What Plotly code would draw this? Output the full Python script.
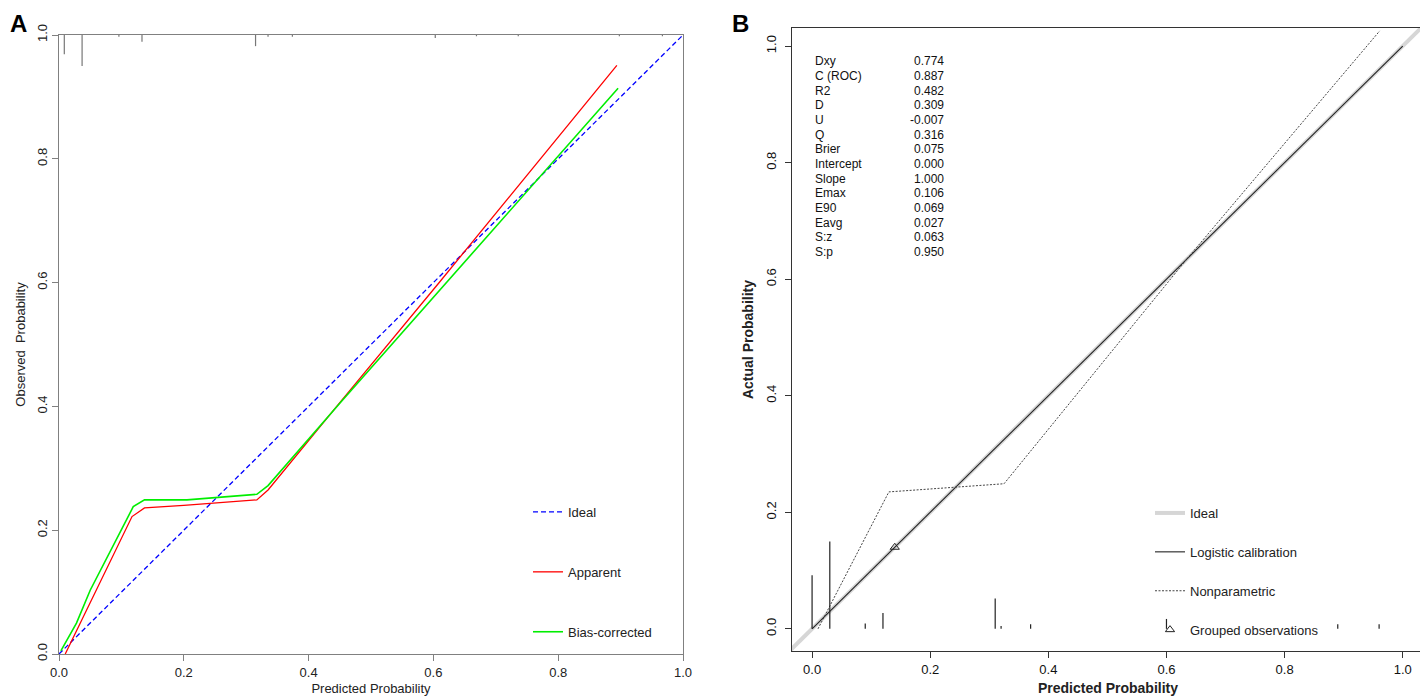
import plotly.graph_objects as go

# page body keeps an 8px margin at top/left; the figure runs to the window's
# right and bottom edges. Every layout position below is in window pixels.
OFF = 8
W, H = 1428 - OFF, 696 - OFF


def fx(p):
    return (p - OFF) / W


def fy(p):
    return 1 - (p - OFF) / H


# ---- panel A data (bootstrap calibration curve) ----
ideal_x = [0, 1]
ideal_y = [0, 1]

apparent_x = [0.010, 0.060, 0.117, 0.137, 0.200, 0.317, 0.335, 0.450, 0.610, 0.894]
apparent_y = [0.000, 0.104, 0.222, 0.236, 0.240, 0.249, 0.265, 0.406, 0.601, 0.951]

biascorr_x = [0.003, 0.028, 0.050, 0.082, 0.119, 0.137, 0.205, 0.317, 0.335, 0.450, 0.730, 0.896]
biascorr_y = [0.005, 0.050, 0.103, 0.165, 0.238, 0.249, 0.249, 0.258, 0.272, 0.405, 0.725, 0.914]

# distribution of predictions (spikes hanging from the top)
rugA_x = [0.0085, 0.037, 0.096, 0.133, 0.315, 0.335, 0.374, 0.603, 0.669, 0.736, 0.898, 0.967]
rugA_h = [0.031, 0.050, 0.003, 0.011, 0.018, 0.003, 0.003, 0.005, 0.002, 0.002, 0.002, 0.002]

# ---- panel B data (val.prob) ----
logistic_x = [0, 1]
logistic_y = [0, 1]

nonpar_x = [0.010, 0.130, 0.325, 0.634, 0.961]
nonpar_y = [0.000, 0.235, 0.249, 0.634, 1.026]

grouped_x = [0.14]
grouped_y = [0.14]

rugB_x = [0.00, 0.03, 0.09, 0.12, 0.31, 0.32, 0.37, 0.60, 0.89, 0.96]
rugB_h = [0.092, 0.150, 0.009, 0.027, 0.052, 0.005, 0.008, 0.017, 0.008, 0.008]

stat_names = ["Dxy", "C (ROC)", "R2", "D", "U", "Q", "Brier", "Intercept",
              "Slope", "Emax", "E90", "Eavg", "S:z", "S:p"]
stat_values = ["0.774", "0.887", "0.482", "0.309", "-0.007", "0.316", "0.075",
               "0.000", "1.000", "0.106", "0.069", "0.027", "0.063", "0.950"]

FONT = "Liberation Sans, Arial, sans-serif"


def spikes(xs, hs, base, sign):
    # vertical segments separated by None
    sx, sy = [], []
    for x, h in zip(xs, hs):
        sx += [x, x, None]
        sy += [base, base + sign * h, None]
    return sx, sy


fig = go.Figure()

# panel A
fig.add_trace(go.Scatter(x=ideal_x, y=ideal_y, mode="lines", name="Ideal",
                         line=dict(color="#0000FF", width=1.3, dash="5px,3px"),
                         legend="legend", legendgroup="a1"))
fig.add_trace(go.Scatter(x=apparent_x, y=apparent_y, mode="lines", name="Apparent",
                         line=dict(color="#FF0000", width=1.3),
                         legend="legend", legendgroup="a2"))
fig.add_trace(go.Scatter(x=biascorr_x, y=biascorr_y, mode="lines", name="Bias-corrected",
                         line=dict(color="#00EE00", width=1.6),
                         legend="legend", legendgroup="a3"))
sx, sy = spikes(rugA_x, rugA_h, 1.0, -1)
fig.add_trace(go.Scatter(x=sx, y=sy, mode="lines", showlegend=False,
                         line=dict(color="#777777", width=1.2)))

# panel B
fig.add_trace(go.Scatter(x=[-0.05, 1.05], y=[-0.05, 1.05], mode="lines", name="Ideal",
                         line=dict(color="#D6D6D6", width=4),
                         xaxis="x2", yaxis="y2", legend="legend2", legendgroup="b1"))
fig.add_trace(go.Scatter(x=logistic_x, y=logistic_y, mode="lines", name="Logistic calibration",
                         line=dict(color="#222222", width=1.1),
                         xaxis="x2", yaxis="y2", legend="legend2", legendgroup="b2"))
fig.add_trace(go.Scatter(x=nonpar_x, y=nonpar_y, mode="lines", name="Nonparametric",
                         line=dict(color="#444444", width=1, dash="2px,1.5px"),
                         xaxis="x2", yaxis="y2", legend="legend2", legendgroup="b3"))
fig.add_trace(go.Scatter(x=grouped_x, y=grouped_y, mode="markers", name="Grouped observations",
                         marker=dict(symbol="triangle-up-open", size=8, color="#222222",
                                     line=dict(width=1)),
                         xaxis="x2", yaxis="y2", legend="legend2", legendgroup="b4"))
sx, sy = spikes(rugB_x, rugB_h, 0.0, 1)
fig.add_trace(go.Scatter(x=sx, y=sy, mode="lines", showlegend=False,
                         line=dict(color="#222222", width=1.2),
                         xaxis="x2", yaxis="y2"))

ticks = [0, 0.2, 0.4, 0.6, 0.8, 1.0]
axA = dict(range=[0, 1], tickvals=ticks, tickformat=".1f", showgrid=False, zeroline=False,
           showline=True, mirror=True, linecolor="#808080", linewidth=1,
           ticks="outside", ticklen=6, tickcolor="#808080",
           tickfont=dict(size=13, color="#222222"), automargin=False)
axB = dict(tickvals=ticks, tickformat=".1f", showgrid=False, zeroline=False,
           showline=True, mirror=True, linecolor="#333333", linewidth=1,
           ticks="outside", ticklen=6, tickcolor="#333333",
           tickfont=dict(size=13, color="#111111"), automargin=False)

fig.update_layout(
    width=W, height=H,
    margin=dict(l=0, r=0, t=0, b=0),
    paper_bgcolor="white", plot_bgcolor="white",
    font=dict(family=FONT, color="#222222"),
    xaxis=dict(axA, domain=[fx(59), fx(683)],
               title=dict(text="Predicted Probability", font=dict(size=13), standoff=8)),
    yaxis=dict(axA, domain=[fy(654), fy(35)], tickangle=-90,
               title=dict(text="Observed  Probability", font=dict(size=13), standoff=6)),
    xaxis2=dict(axB, range=[-0.034, 1.036], domain=[fx(792), fx(1424)], anchor="y2",
                title=dict(text="<b>Predicted Probability</b>", font=dict(size=14), standoff=8)),
    yaxis2=dict(axB, range=[-0.038, 1.031], domain=[fy(651), fy(28)], anchor="x2",
                tickangle=-90, ticklabelstandoff=4,
                title=dict(text="<b>Actual Probability</b>", font=dict(size=14), standoff=6)),
    legend=dict(x=fx(528), y=fy(497), xanchor="left", yanchor="top",
                bgcolor="rgba(0,0,0,0)", font=dict(size=13), itemwidth=30,
                traceorder="grouped", tracegroupgap=40),
    legend2=dict(x=fx(1150), y=fy(498), xanchor="left", yanchor="top",
                 bgcolor="rgba(0,0,0,0)", font=dict(size=13), itemwidth=30,
                 traceorder="grouped", tracegroupgap=19),
)

# stats table in panel B
for i, (nm, val) in enumerate(zip(stat_names, stat_values)):
    ypix = 61.5 + i * 14.65
    fig.add_annotation(x=fx(813), y=fy(ypix), xref="paper", yref="paper", text=nm,
                       showarrow=False, xanchor="left", yanchor="middle",
                       font=dict(size=12, color="#111111"))
    fig.add_annotation(x=fx(946), y=fy(ypix), xref="paper", yref="paper", text=val,
                       showarrow=False, xanchor="right", yanchor="middle",
                       font=dict(size=12, color="#111111"))

# panel letters (the page margin leaves no room above y=8)
fig.add_annotation(x=fx(8), y=fy(8), xref="paper", yref="paper", text="<b>A</b>",
                   showarrow=False, xanchor="left", yanchor="top",
                   font=dict(size=24, color="black"))
fig.add_annotation(x=fx(730), y=fy(8), xref="paper", yref="paper", text="<b>B</b>",
                   showarrow=False, xanchor="left", yanchor="top",
                   font=dict(size=24, color="black"))

fig.write_html("out.html")
